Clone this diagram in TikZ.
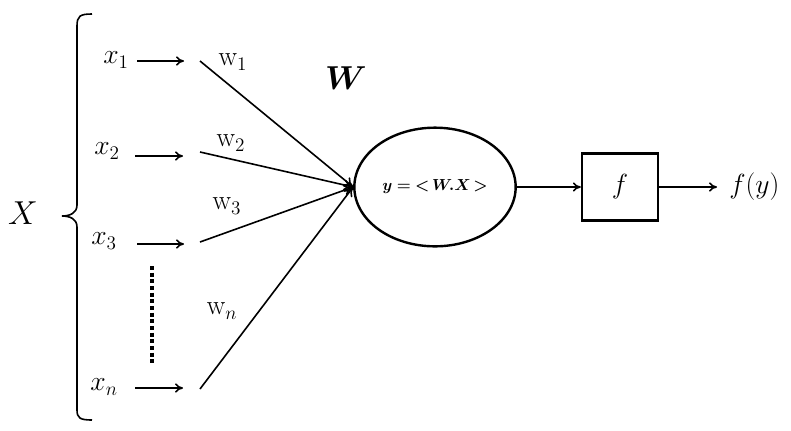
\documentclass[tikz,border=0pt]{standalone}
\usepackage{amsmath,bm}
\usetikzlibrary{shapes.geometric,arrows.meta}
\begin{document}
\begin{tikzpicture}[x=0.75pt,y=-0.75pt,
  inarrow/.style={line width=1.2pt,-{To[length=6pt,width=7pt]}},
  wline/.style={line width=1.2pt,-{To[length=7pt,width=8pt]}},
  lbl/.style={inner sep=0pt,font=\fontsize{20}{24}\selectfont},
  wlbl/.style={inner sep=0pt,font=\fontsize{20}{24}\selectfont},
  thickbox/.style={draw,line width=1.8pt,inner sep=0pt}]
\useasboundingbox (0,0) rectangle (791,430);
% brace
\draw[line width=1.2pt] (92,14) .. controls (80,14) and (77,16) .. (77,26) -- (77,205)
  .. controls (77,213) and (70,216) .. (62,216) .. controls (70,216) and (77,219) .. (77,227)
  -- (77,410) .. controls (77,418) and (80,420) .. (92,420);
\node[inner sep=0pt,font=\fontsize{38}{44}\selectfont] (X) at (23,213) {$X$};
% input labels
\node[lbl] (x1) at (116,60) {$x_1$};
\node[lbl] (x2) at (107,151) {$x_2$};
\node[lbl] (x3) at (104,241) {$x_3$};
\node[lbl] (xn) at (104,387) {$x_n$};
% input arrows
\coordinate (a1) at (137,61); \coordinate (b1) at (184,61);
\coordinate (a2) at (135,156); \coordinate (b2) at (183,156);
\coordinate (a3) at (137,244); \coordinate (b3) at (184,244);
\coordinate (an) at (135,388); \coordinate (bn) at (183,388);
\draw[inarrow] (a1) -- (b1);
\draw[inarrow] (a2) -- (b2);
\draw[inarrow] (a3) -- (b3);
\draw[inarrow] (an) -- (bn);
% dotted
\coordinate (d1) at (152,266); \coordinate (d2) at (152,365);
\draw[line width=3pt,dash pattern=on 3pt off 2pt] (d1) -- (d2);
% neuron
\node[ellipse,thickbox,minimum width=121pt,minimum height=89pt] (neuron) at (435,187)
  {\fontsize{11.5}{13}\selectfont$\boldsymbol{y={<}\,W.X\,{>}}$};
\node[inner sep=0pt,font=\fontsize{26}{30}\selectfont] (W) at (346,78) {$\boldsymbol{W}$};
% weight lines
\coordinate (s1) at (200,61);
\coordinate (s2) at (200,152);
\coordinate (s3) at (200,242);
\coordinate (sn) at (200,389);
\draw[wline] (s1) -- (neuron.west);
\draw[wline] (s2) -- (neuron.west);
\draw[wline] (s3) -- (neuron.west);
\draw[wline] (sn) -- (neuron.west);
\node[wlbl] (w1) at (233,62) {$\mathrm{w}_1$};
\node[wlbl] (w2) at (231,143) {$\mathrm{w}_2$};
\node[wlbl] (w3) at (227,206) {$\mathrm{w}_3$};
\node[wlbl] (wn) at (222,311) {$\mathrm{w}_n$};
% activation
\node[thickbox,minimum width=57pt,minimum height=50pt] (f) at (620,187)
  {\fontsize{20}{24}\selectfont$f$};
\draw[inarrow] (neuron.east) -- (f.west);
\node[lbl,anchor=west] (fy) at (729,187) {$f(y)$};
\draw[inarrow] (f.east) -- (fy.west -| 717,0);
\end{tikzpicture}
\end{document}
